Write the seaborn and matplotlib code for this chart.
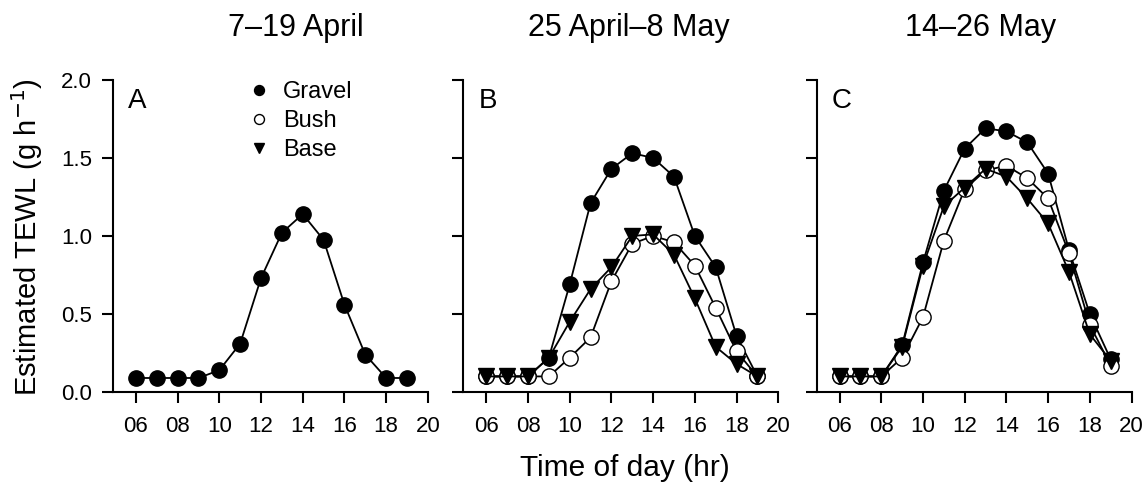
import numpy as np
import pandas as pd
import matplotlib
matplotlib.use('Agg')
import matplotlib.pyplot as plt
import seaborn as sns

# Hours of the day (x axis)
hours = [6, 7, 8, 9, 10, 11, 12, 13, 14, 15, 16, 17, 18, 19]

# Panel A: 7-19 April (gravel only)
a_gravel = [0.09, 0.09, 0.09, 0.09, 0.14, 0.31, 0.73, 1.02, 1.14, 0.975, 0.56, 0.24, 0.09, 0.09]

# Panel B: 25 April - 8 May
b_gravel = [0.10, 0.10, 0.10, 0.22, 0.69, 1.21, 1.43, 1.53, 1.50, 1.38, 1.00, 0.80, 0.36, 0.10]
b_bush = [0.10, 0.10, 0.10, 0.10, 0.22, 0.35, 0.71, 0.95, 1.00, 0.96, 0.81, 0.54, 0.26, 0.10]
b_base = [0.10, 0.10, 0.10, 0.22, 0.45, 0.66, 0.80, 1.00, 1.01, 0.88, 0.60, 0.29, 0.18, 0.10]

# Panel C: 14-26 May
c_gravel = [0.10, 0.10, 0.10, 0.30, 0.83, 1.29, 1.56, 1.69, 1.67, 1.60, 1.40, 0.91, 0.50, 0.21]
c_bush = [0.10, 0.10, 0.10, 0.22, 0.48, 0.97, 1.30, 1.42, 1.45, 1.37, 1.24, 0.89, 0.43, 0.17]
c_base = [0.10, 0.10, 0.10, 0.29, 0.81, 1.19, 1.31, 1.43, 1.38, 1.24, 1.08, 0.77, 0.37, 0.20]

titles = ['7\u201319 April', '25 April\u20138 May', '14\u201326 May']
panel_letters = ['A', 'B', 'C']
xtick_vals = [6, 8, 10, 12, 14, 16, 18, 20]
xtick_labels = ['06', '08', '10', '12', '14', '16', '18', '20']
ytick_vals = [0.0, 0.5, 1.0, 1.5, 2.0]
ytick_labels = ['0.0', '0.5', '1.0', '1.5', '2.0']

sns.set_style('ticks')
plt.rcParams['font.family'] = ['Liberation Sans', 'DejaVu Sans']
plt.rcParams['text.color'] = 'black'
plt.rcParams['xtick.color'] = 'black'
plt.rcParams['ytick.color'] = 'black'
plt.rcParams['axes.edgecolor'] = 'black'

fig = plt.figure(figsize=(11.47, 4.87), dpi=100)
ax_pos = [
    [0.0985, 0.195, 0.2745, 0.641],
    [0.404, 0.195, 0.2745, 0.641],
    [0.712, 0.195, 0.2745, 0.641],
]
axes = [fig.add_axes(p) for p in ax_pos]

# series styles: (marker, facecolor)
styles = {
    'Gravel': ('o', 'black'),
    'Bush': ('o', 'white'),
    'Base': ('v', 'black'),
}


def draw_series(ax, values, name):
    marker, face = styles[name]
    df = pd.DataFrame({'hour': hours, 'tewl': values})
    sns.lineplot(data=df, x='hour', y='tewl', ax=ax, color='black', lw=1.3,
                 marker=marker, markersize=11,
                 markerfacecolor=face, markeredgecolor='black',
                 markeredgewidth=1.0, label=name)


draw_series(axes[0], a_gravel, 'Gravel')
for ax, g, bu, ba in [(axes[1], b_gravel, b_bush, b_base),
                      (axes[2], c_gravel, c_bush, c_base)]:
    draw_series(ax, g, 'Gravel')
    draw_series(ax, bu, 'Bush')
    draw_series(ax, ba, 'Base')

for i, ax in enumerate(axes):
    ax.set_xlim(4.9, 20)
    ax.set_ylim(0, 2.0)
    ax.set_xticks(xtick_vals)
    ax.set_xticklabels(xtick_labels)
    ax.set_yticks(ytick_vals)
    ax.set_xlabel('')
    ax.set_ylabel('')
    for s in ['top', 'right']:
        ax.spines[s].set_visible(False)
    for s in ['left', 'bottom']:
        ax.spines[s].set_linewidth(1.5)
    ax.tick_params(direction='out', length=8, width=1.5, labelsize=16)
    ax.tick_params(axis='x', pad=9)
    ax.tick_params(axis='y', pad=7)
    if i > 0:
        ax.set_yticklabels([])
    else:
        ax.set_yticklabels(ytick_labels)
    ax.text(0.048, 0.975, panel_letters[i], transform=ax.transAxes,
            fontsize=20, va='top', ha='left')
    leg = ax.get_legend()
    if leg is not None:
        leg.remove()

# legend in panel A, using handles from panel B
handles, labels = axes[1].get_legend_handles_labels()
axes[0].legend(handles, labels, loc='upper left', bbox_to_anchor=(0.375, 1.065),
               frameon=False, fontsize=17, handlelength=0.6, handletextpad=0.7,
               labelspacing=0.3, markerscale=0.65)
for h in axes[0].get_legend().get_lines():
    h.set_linestyle('')

# titles
title_x = [296, 629, 981]
for tx, t in zip(title_x, titles):
    fig.text(tx / 1147, 1 - 28 / 487, t, ha='center', va='center', fontsize=22)

fig.text(625 / 1147, 1 - 468 / 487, 'Time of day (hr)', ha='center', va='center', fontsize=21.5)
fig.text(27 / 1147, 1 - 237 / 487, 'Estimated TEWL (g h$^{-1}$)', ha='center', va='center',
         rotation=90, fontsize=21)

fig.savefig('out.png', dpi=100)
